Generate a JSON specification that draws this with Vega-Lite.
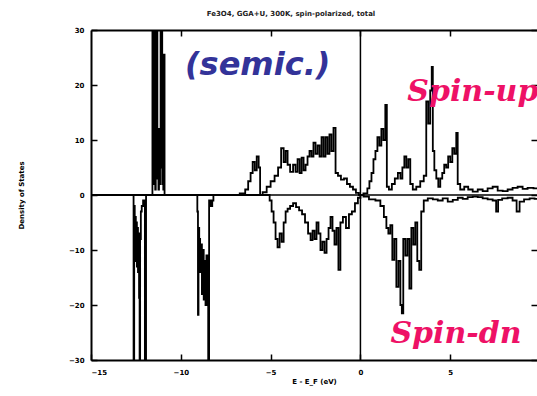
{
  "$schema": "https://vega.github.io/schema/vega-lite/v6.json",
  "width": 446,
  "height": 330,
  "autosize": {"type": "none"},
  "padding": {"left": 91, "top": 30, "right": 0, "bottom": 36},
  "background": "white",
  "title": {
    "text": "Fe3O4, GGA+U, 300K, spin-polarized, total",
    "fontSize": 7,
    "fontWeight": "bold",
    "font": "DejaVu Sans",
    "color": "#222222",
    "offset": 9,
    "dx": -23
  },
  "config": {
    "view": {"stroke": null},
    "axis": {
      "grid": false,
      "domainColor": "black",
      "domainWidth": 2,
      "tickColor": "black",
      "tickWidth": 1.5,
      "tickSize": -6,
      "labelFont": "DejaVu Sans",
      "labelFontSize": 7,
      "labelFontWeight": "bold",
      "labelColor": "black",
      "titleFont": "DejaVu Sans",
      "titleFontSize": 7,
      "titleFontWeight": "bold",
      "titleColor": "black"
    }
  },
  "datasets": {
    "dos": [
      {"E": -15.0, "dos": 0, "spin": "up"},
      {"E": -11.6, "dos": 0, "spin": "up"},
      {"E": -11.56, "dos": 45, "spin": "up"},
      {"E": -11.53, "dos": 2, "spin": "up"},
      {"E": -11.5, "dos": 45, "spin": "up"},
      {"E": -11.47, "dos": 4, "spin": "up"},
      {"E": -11.44, "dos": 45, "spin": "up"},
      {"E": -11.41, "dos": 1, "spin": "up"},
      {"E": -11.38, "dos": 45, "spin": "up"},
      {"E": -11.35, "dos": 6, "spin": "up"},
      {"E": -11.32, "dos": 45, "spin": "up"},
      {"E": -11.29, "dos": 3, "spin": "up"},
      {"E": -11.26, "dos": 10, "spin": "up"},
      {"E": -11.23, "dos": 1, "spin": "up"},
      {"E": -11.2, "dos": 12, "spin": "up"},
      {"E": -11.17, "dos": 2, "spin": "up"},
      {"E": -11.14, "dos": 9, "spin": "up"},
      {"E": -11.11, "dos": 45, "spin": "up"},
      {"E": -11.08, "dos": 5, "spin": "up"},
      {"E": -11.05, "dos": 45, "spin": "up"},
      {"E": -11.02, "dos": 2, "spin": "up"},
      {"E": -10.99, "dos": 8, "spin": "up"},
      {"E": -10.96, "dos": 1, "spin": "up"},
      {"E": -10.92, "dos": 25.5, "spin": "up"},
      {"E": -10.89, "dos": 0, "spin": "up"},
      {"E": -6.94, "dos": 0, "spin": "up"},
      {"E": -6.5, "dos": 0.3, "spin": "up"},
      {"E": -6.33, "dos": 1, "spin": "up"},
      {"E": -6.17, "dos": 2.5, "spin": "up"},
      {"E": -6.06, "dos": 4, "spin": "up"},
      {"E": -5.94, "dos": 6, "spin": "up"},
      {"E": -5.83, "dos": 4.5, "spin": "up"},
      {"E": -5.72, "dos": 7, "spin": "up"},
      {"E": -5.61, "dos": 5, "spin": "up"},
      {"E": -5.56, "dos": 0, "spin": "up"},
      {"E": -5.33, "dos": 0.5, "spin": "up"},
      {"E": -5.11, "dos": 1.5, "spin": "up"},
      {"E": -4.89, "dos": 2.5, "spin": "up"},
      {"E": -4.67, "dos": 3.5, "spin": "up"},
      {"E": -4.5, "dos": 5, "spin": "up"},
      {"E": -4.33, "dos": 8.5, "spin": "up"},
      {"E": -4.22, "dos": 6, "spin": "up"},
      {"E": -4.11, "dos": 8, "spin": "up"},
      {"E": -4.0, "dos": 5.5, "spin": "up"},
      {"E": -3.83, "dos": 4.2, "spin": "up"},
      {"E": -3.67, "dos": 5.5, "spin": "up"},
      {"E": -3.56, "dos": 4.2, "spin": "up"},
      {"E": -3.44, "dos": 6.5, "spin": "up"},
      {"E": -3.33, "dos": 4, "spin": "up"},
      {"E": -3.22, "dos": 6.8, "spin": "up"},
      {"E": -3.11, "dos": 4.5, "spin": "up"},
      {"E": -3.0, "dos": 5.5, "spin": "up"},
      {"E": -2.89, "dos": 7, "spin": "up"},
      {"E": -2.78, "dos": 8, "spin": "up"},
      {"E": -2.67, "dos": 7, "spin": "up"},
      {"E": -2.56, "dos": 9.5, "spin": "up"},
      {"E": -2.44, "dos": 7.5, "spin": "up"},
      {"E": -2.33, "dos": 9, "spin": "up"},
      {"E": -2.22, "dos": 7, "spin": "up"},
      {"E": -2.11, "dos": 10.5, "spin": "up"},
      {"E": -2.0, "dos": 7, "spin": "up"},
      {"E": -1.89, "dos": 10.5, "spin": "up"},
      {"E": -1.78, "dos": 7.5, "spin": "up"},
      {"E": -1.67, "dos": 11, "spin": "up"},
      {"E": -1.56, "dos": 8, "spin": "up"},
      {"E": -1.44, "dos": 12.2, "spin": "up"},
      {"E": -1.33, "dos": 4, "spin": "up"},
      {"E": -1.17, "dos": 3.5, "spin": "up"},
      {"E": -1.0, "dos": 2.8, "spin": "up"},
      {"E": -0.83, "dos": 3, "spin": "up"},
      {"E": -0.67, "dos": 2, "spin": "up"},
      {"E": -0.5, "dos": 1.5, "spin": "up"},
      {"E": -0.33, "dos": 1, "spin": "up"},
      {"E": -0.17, "dos": 0.4, "spin": "up"},
      {"E": 0.0, "dos": 0, "spin": "up"},
      {"E": 0.33, "dos": 0.3, "spin": "up"},
      {"E": 0.44, "dos": 1.2, "spin": "up"},
      {"E": 0.56, "dos": 2.5, "spin": "up"},
      {"E": 0.67, "dos": 4, "spin": "up"},
      {"E": 0.78, "dos": 6.5, "spin": "up"},
      {"E": 0.89, "dos": 8, "spin": "up"},
      {"E": 1.0, "dos": 10.5, "spin": "up"},
      {"E": 1.11, "dos": 9, "spin": "up"},
      {"E": 1.22, "dos": 12, "spin": "up"},
      {"E": 1.33, "dos": 10, "spin": "up"},
      {"E": 1.44, "dos": 16.4, "spin": "up"},
      {"E": 1.5, "dos": 1.5, "spin": "up"},
      {"E": 1.67, "dos": 1, "spin": "up"},
      {"E": 1.83, "dos": 2, "spin": "up"},
      {"E": 2.0, "dos": 3, "spin": "up"},
      {"E": 2.17, "dos": 4, "spin": "up"},
      {"E": 2.28, "dos": 3, "spin": "up"},
      {"E": 2.39, "dos": 5, "spin": "up"},
      {"E": 2.5, "dos": 7, "spin": "up"},
      {"E": 2.61, "dos": 5, "spin": "up"},
      {"E": 2.72, "dos": 6.5, "spin": "up"},
      {"E": 2.83, "dos": 2, "spin": "up"},
      {"E": 3.0, "dos": 1, "spin": "up"},
      {"E": 3.22, "dos": 1.5, "spin": "up"},
      {"E": 3.44, "dos": 2.5, "spin": "up"},
      {"E": 3.61, "dos": 3.5, "spin": "up"},
      {"E": 3.72, "dos": 17, "spin": "up"},
      {"E": 3.83, "dos": 13, "spin": "up"},
      {"E": 3.94, "dos": 19, "spin": "up"},
      {"E": 4.0, "dos": 23.3, "spin": "up"},
      {"E": 4.06, "dos": 8, "spin": "up"},
      {"E": 4.17, "dos": 4.5, "spin": "up"},
      {"E": 4.28, "dos": 3, "spin": "up"},
      {"E": 4.39, "dos": 1.5, "spin": "up"},
      {"E": 4.5, "dos": 3, "spin": "up"},
      {"E": 4.61, "dos": 4, "spin": "up"},
      {"E": 4.72, "dos": 5.5, "spin": "up"},
      {"E": 4.83, "dos": 5, "spin": "up"},
      {"E": 4.94, "dos": 7, "spin": "up"},
      {"E": 5.06, "dos": 6, "spin": "up"},
      {"E": 5.17, "dos": 8.5, "spin": "up"},
      {"E": 5.28, "dos": 7.5, "spin": "up"},
      {"E": 5.39, "dos": 11.3, "spin": "up"},
      {"E": 5.44, "dos": 2, "spin": "up"},
      {"E": 5.67, "dos": 1, "spin": "up"},
      {"E": 5.89, "dos": 1.5, "spin": "up"},
      {"E": 6.11, "dos": 1, "spin": "up"},
      {"E": 6.39, "dos": 0.6, "spin": "up"},
      {"E": 6.67, "dos": 1, "spin": "up"},
      {"E": 6.94, "dos": 0.7, "spin": "up"},
      {"E": 7.22, "dos": 1.2, "spin": "up"},
      {"E": 7.5, "dos": 1.5, "spin": "up"},
      {"E": 7.78, "dos": 0.8, "spin": "up"},
      {"E": 8.06, "dos": 0.7, "spin": "up"},
      {"E": 8.33, "dos": 1, "spin": "up"},
      {"E": 8.61, "dos": 1.3, "spin": "up"},
      {"E": 8.89, "dos": 1.5, "spin": "up"},
      {"E": 9.17, "dos": 1.1, "spin": "up"},
      {"E": 9.44, "dos": 1.3, "spin": "up"},
      {"E": 9.83, "dos": 1.2, "spin": "up"},

      {"E": -15.0, "dos": 0, "spin": "dn"},
      {"E": -12.65, "dos": 0, "spin": "dn"},
      {"E": -12.61, "dos": -45, "spin": "dn"},
      {"E": -12.58, "dos": -2, "spin": "dn"},
      {"E": -12.55, "dos": -10, "spin": "dn"},
      {"E": -12.52, "dos": -4, "spin": "dn"},
      {"E": -12.49, "dos": -12, "spin": "dn"},
      {"E": -12.46, "dos": -5, "spin": "dn"},
      {"E": -12.43, "dos": -13, "spin": "dn"},
      {"E": -12.4, "dos": -6, "spin": "dn"},
      {"E": -12.37, "dos": -14, "spin": "dn"},
      {"E": -12.34, "dos": -7, "spin": "dn"},
      {"E": -12.31, "dos": -18.7, "spin": "dn"},
      {"E": -12.28, "dos": -45, "spin": "dn"},
      {"E": -12.25, "dos": -8, "spin": "dn"},
      {"E": -12.2, "dos": -3, "spin": "dn"},
      {"E": -12.15, "dos": -2, "spin": "dn"},
      {"E": -12.05, "dos": -1, "spin": "dn"},
      {"E": -11.95, "dos": -45, "spin": "dn"},
      {"E": -11.92, "dos": 0, "spin": "dn"},
      {"E": -9.1, "dos": 0, "spin": "dn"},
      {"E": -9.06, "dos": -3, "spin": "dn"},
      {"E": -9.03, "dos": -21.8, "spin": "dn"},
      {"E": -9.0, "dos": -6, "spin": "dn"},
      {"E": -8.95, "dos": -8, "spin": "dn"},
      {"E": -8.9, "dos": -14, "spin": "dn"},
      {"E": -8.85, "dos": -9, "spin": "dn"},
      {"E": -8.8, "dos": -18, "spin": "dn"},
      {"E": -8.75, "dos": -10, "spin": "dn"},
      {"E": -8.7, "dos": -19, "spin": "dn"},
      {"E": -8.65, "dos": -12, "spin": "dn"},
      {"E": -8.6, "dos": -20, "spin": "dn"},
      {"E": -8.55, "dos": -11, "spin": "dn"},
      {"E": -8.5, "dos": -17, "spin": "dn"},
      {"E": -8.45, "dos": -45, "spin": "dn"},
      {"E": -8.4, "dos": -1, "spin": "dn"},
      {"E": -8.3, "dos": -2, "spin": "dn"},
      {"E": -8.2, "dos": -1, "spin": "dn"},
      {"E": -8.17, "dos": 0, "spin": "dn"},
      {"E": -5.11, "dos": 0, "spin": "dn"},
      {"E": -5.0, "dos": -1, "spin": "dn"},
      {"E": -4.89, "dos": -3, "spin": "dn"},
      {"E": -4.78, "dos": -5, "spin": "dn"},
      {"E": -4.67, "dos": -8, "spin": "dn"},
      {"E": -4.56, "dos": -9.5, "spin": "dn"},
      {"E": -4.44, "dos": -7, "spin": "dn"},
      {"E": -4.33, "dos": -8.5, "spin": "dn"},
      {"E": -4.22, "dos": -5, "spin": "dn"},
      {"E": -4.11, "dos": -3, "spin": "dn"},
      {"E": -4.0, "dos": -2.5, "spin": "dn"},
      {"E": -3.83, "dos": -2, "spin": "dn"},
      {"E": -3.67, "dos": -1.5, "spin": "dn"},
      {"E": -3.5, "dos": -2.2, "spin": "dn"},
      {"E": -3.33, "dos": -2.8, "spin": "dn"},
      {"E": -3.17, "dos": -3.5, "spin": "dn"},
      {"E": -3.0, "dos": -5, "spin": "dn"},
      {"E": -2.83, "dos": -7, "spin": "dn"},
      {"E": -2.72, "dos": -8.2, "spin": "dn"},
      {"E": -2.61, "dos": -6.5, "spin": "dn"},
      {"E": -2.5, "dos": -8, "spin": "dn"},
      {"E": -2.39, "dos": -5, "spin": "dn"},
      {"E": -2.28, "dos": -7, "spin": "dn"},
      {"E": -2.17, "dos": -10, "spin": "dn"},
      {"E": -2.06, "dos": -8.5, "spin": "dn"},
      {"E": -1.94, "dos": -10.5, "spin": "dn"},
      {"E": -1.83, "dos": -8, "spin": "dn"},
      {"E": -1.72, "dos": -6, "spin": "dn"},
      {"E": -1.61, "dos": -4, "spin": "dn"},
      {"E": -1.5, "dos": -6.5, "spin": "dn"},
      {"E": -1.39, "dos": -9, "spin": "dn"},
      {"E": -1.28, "dos": -6, "spin": "dn"},
      {"E": -1.17, "dos": -13.6, "spin": "dn"},
      {"E": -1.06, "dos": -5, "spin": "dn"},
      {"E": -0.89, "dos": -4, "spin": "dn"},
      {"E": -0.72, "dos": -6, "spin": "dn"},
      {"E": -0.56, "dos": -3.5, "spin": "dn"},
      {"E": -0.39, "dos": -3, "spin": "dn"},
      {"E": -0.22, "dos": -1.5, "spin": "dn"},
      {"E": -0.06, "dos": -0.5, "spin": "dn"},
      {"E": 0.06, "dos": 0, "spin": "dn"},
      {"E": 0.28, "dos": -0.3, "spin": "dn"},
      {"E": 0.67, "dos": -0.8, "spin": "dn"},
      {"E": 1.0, "dos": -1, "spin": "dn"},
      {"E": 1.22, "dos": -2, "spin": "dn"},
      {"E": 1.39, "dos": -4, "spin": "dn"},
      {"E": 1.5, "dos": -6, "spin": "dn"},
      {"E": 1.61, "dos": -7, "spin": "dn"},
      {"E": 1.72, "dos": -5.5, "spin": "dn"},
      {"E": 1.83, "dos": -11.8, "spin": "dn"},
      {"E": 1.94, "dos": -8, "spin": "dn"},
      {"E": 2.06, "dos": -16.7, "spin": "dn"},
      {"E": 2.17, "dos": -12, "spin": "dn"},
      {"E": 2.28, "dos": -20, "spin": "dn"},
      {"E": 2.33, "dos": -21.5, "spin": "dn"},
      {"E": 2.44, "dos": -8, "spin": "dn"},
      {"E": 2.56, "dos": -11, "spin": "dn"},
      {"E": 2.67, "dos": -8, "spin": "dn"},
      {"E": 2.78, "dos": -17, "spin": "dn"},
      {"E": 2.89, "dos": -6, "spin": "dn"},
      {"E": 3.0, "dos": -9, "spin": "dn"},
      {"E": 3.11, "dos": -5, "spin": "dn"},
      {"E": 3.22, "dos": -12, "spin": "dn"},
      {"E": 3.33, "dos": -13.6, "spin": "dn"},
      {"E": 3.44, "dos": -3, "spin": "dn"},
      {"E": 3.61, "dos": -1, "spin": "dn"},
      {"E": 3.89, "dos": -0.6, "spin": "dn"},
      {"E": 4.17, "dos": -0.8, "spin": "dn"},
      {"E": 4.44, "dos": -1, "spin": "dn"},
      {"E": 4.72, "dos": -0.6, "spin": "dn"},
      {"E": 5.0, "dos": -1.2, "spin": "dn"},
      {"E": 5.28, "dos": -0.9, "spin": "dn"},
      {"E": 5.56, "dos": -0.5, "spin": "dn"},
      {"E": 5.83, "dos": -0.7, "spin": "dn"},
      {"E": 6.11, "dos": -0.4, "spin": "dn"},
      {"E": 6.39, "dos": -0.3, "spin": "dn"},
      {"E": 6.67, "dos": -0.4, "spin": "dn"},
      {"E": 6.94, "dos": -0.6, "spin": "dn"},
      {"E": 7.22, "dos": -0.8, "spin": "dn"},
      {"E": 7.5, "dos": -1, "spin": "dn"},
      {"E": 7.61, "dos": -3, "spin": "dn"},
      {"E": 7.72, "dos": -0.9, "spin": "dn"},
      {"E": 8.06, "dos": -0.6, "spin": "dn"},
      {"E": 8.33, "dos": -0.5, "spin": "dn"},
      {"E": 8.61, "dos": -1, "spin": "dn"},
      {"E": 8.78, "dos": -3, "spin": "dn"},
      {"E": 8.94, "dos": -1.2, "spin": "dn"},
      {"E": 9.28, "dos": -0.8, "spin": "dn"},
      {"E": 9.56, "dos": -0.6, "spin": "dn"},
      {"E": 9.83, "dos": -0.7, "spin": "dn"}
    ],
    "labels": [
      {"label": "(semic.)", "kind": "core"},
      {"label": "Spin-up", "kind": "up"},
      {"label": "Spin-dn", "kind": "dn"}
    ]
  },
  "layer": [
    {
      "data": {"name": "dos"},
      "mark": {"type": "line", "interpolate": "step", "clip": true, "color": "black", "strokeWidth": 1.8},
      "encoding": {
        "x": {
          "field": "E",
          "type": "quantitative",
          "scale": {"domain": [-15, 9.83], "nice": false, "zero": false},
          "axis": {
            "orient": "bottom",
            "values": [-15, -10, -5, 0, 5],
            "labelPadding": 14,
            "title": "E - E_F (eV)",
            "titlePadding": 2
          }
        },
        "y": {
          "field": "dos",
          "type": "quantitative",
          "scale": {"domain": [-30, 30], "nice": false},
          "axis": {
            "orient": "left",
            "values": [-30, -20, -10, 0, 10, 20, 30],
            "labelPadding": 13,
            "title": "Density of States",
            "titlePadding": 44
          }
        },
        "detail": {"field": "spin", "type": "nominal"}
      }
    },
    {
      "data": {"values": [{}]},
      "mark": {"type": "rule", "color": "black", "strokeWidth": 1.5},
      "encoding": {"y": {"datum": 0, "axis": null}}
    },
    {
      "data": {"values": [{}]},
      "mark": {"type": "rule", "color": "black", "strokeWidth": 1.5},
      "encoding": {
        "x": {"datum": 0, "axis": {"orient": "top", "values": [-10, -5, 0, 5], "labels": false, "title": null}}
      }
    },
    {
      "data": {"values": [{}]},
      "mark": {"type": "rule", "opacity": 0},
      "encoding": {
        "y": {"datum": 0, "axis": {"orient": "right", "values": [-30, -20, -10, 0, 10, 20, 30], "labels": false, "domain": false, "title": null}}
      }
    },
    {
      "data": {"name": "labels"},
      "transform": [{"filter": "datum.kind == 'core'"}],
      "mark": {"type": "text", "font": "DejaVu Sans", "fontSize": 32, "fontWeight": "bold", "fontStyle": "italic", "color": "#333399", "align": "center", "baseline": "middle"},
      "encoding": {"x": {"datum": -5.72, "axis": null}, "y": {"datum": 23.6, "axis": null}, "text": {"field": "label"}}
    },
    {
      "data": {"name": "labels"},
      "transform": [{"filter": "datum.kind == 'up'"}],
      "mark": {"type": "text", "font": "DejaVu Serif", "fontSize": 30, "fontWeight": "bold", "fontStyle": "italic", "color": "#ee1166", "align": "left", "baseline": "middle"},
      "encoding": {"x": {"datum": 2.61, "axis": null}, "y": {"datum": 18.7, "axis": null}, "text": {"field": "label"}}
    },
    {
      "data": {"name": "labels"},
      "transform": [{"filter": "datum.kind == 'dn'"}],
      "mark": {"type": "text", "font": "DejaVu Serif", "fontSize": 30, "fontWeight": "bold", "fontStyle": "italic", "color": "#ee1166", "align": "left", "baseline": "middle"},
      "encoding": {"x": {"datum": 1.67, "axis": null}, "y": {"datum": -25.2, "axis": null}, "text": {"field": "label"}}
    }
  ]
}
